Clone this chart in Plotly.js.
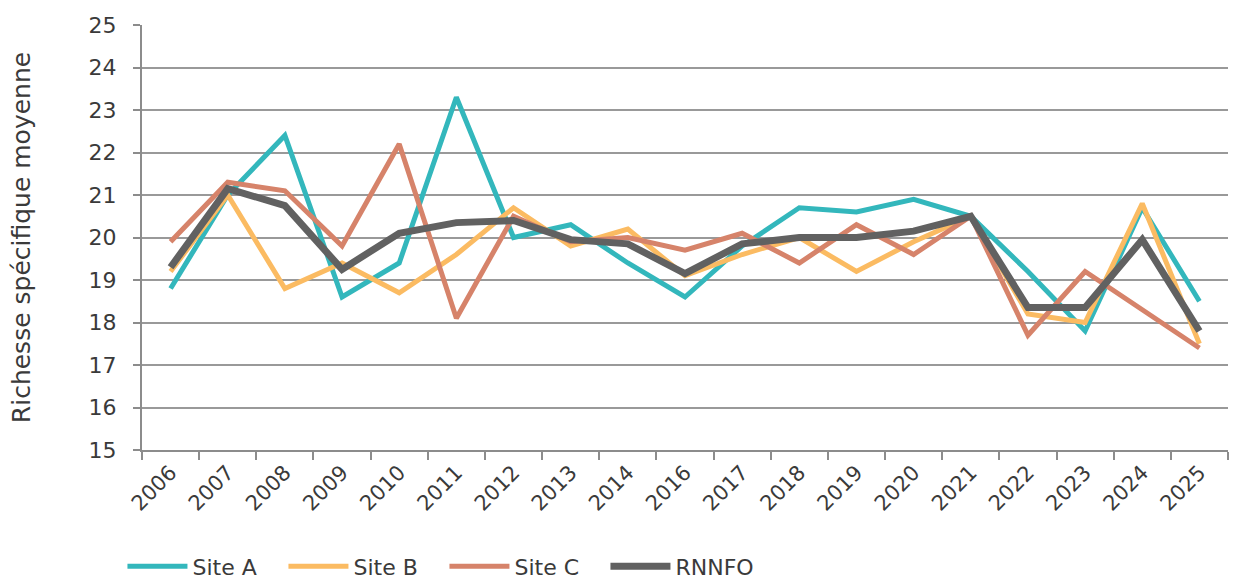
<!DOCTYPE html>
<html>
<head>
<meta charset="utf-8">
<script src="https://cdn.plot.ly/plotly-3.0.1.min.js"></script>
<style>html,body{margin:0;padding:0;background:#fff;}#chart{width:1248px;height:583px;}</style>
</head>
<body>
<div id="chart"></div>
<script>
const years = ["2006","2007","2008","2009","2010","2011","2012","2013","2014","2016","2017","2018","2019","2020","2021","2022","2023","2024","2025"];
const siteA = [18.8,21.0,22.4,18.6,19.4,23.3,20.0,20.3,19.4,18.6,19.8,20.7,20.6,20.9,20.5,19.2,17.8,20.7,18.5];
const siteB = [19.2,21.0,18.8,19.4,18.7,19.6,20.7,19.8,20.2,19.1,19.6,20.0,19.2,19.9,20.5,18.2,18.0,20.8,17.5];
const siteC = [19.9,21.3,21.1,19.8,22.2,18.1,20.5,19.9,20.0,19.7,20.1,19.4,20.3,19.6,20.5,17.7,19.2,18.3,17.4];
const rnnfo = [19.3,21.15,20.75,19.25,20.1,20.35,20.4,19.95,19.85,19.15,19.85,20.0,20.0,20.15,20.5,18.35,18.35,19.95,17.8];
const yTicks = [15,16,17,18,19,20,21,22,23,24,25];

const font = "DejaVu Sans";
const txt = "#3a3a3a";
function tr(name, y, color, w){
  return {x: years, y: y, name: name, type: "scatter", mode: "lines",
          line: {color: color, width: w}};
}
const data = [
  tr("Site A", siteA, "#33b7bc", 5),
  tr("Site B", siteB, "#fbbb62", 5),
  tr("Site C", siteC, "#d6836a", 5),
  tr("RNNFO", rnnfo, "#616161", 7)
];
const layout = {
  width: 1248, height: 583,
  margin: {l: 142, r: 20, t: 25, b: 133, autoexpand: false},
  paper_bgcolor: "#fff", plot_bgcolor: "#fff",
  font: {family: font, size: 21, color: txt},
  showlegend: true,
  legend: {orientation: "h", x: -0.018, xanchor: "left", y: -0.274, yanchor: "middle",
           font: {family: font, size: 22, color: txt}, itemwidth: 60, tracegroupgap: 0,
           entrywidth: 86, entrywidthmode: "pixels"},
  xaxis: {type: "category", range: [-0.5, 18.5], automargin: false, tickangle: -45,
          tickson: "boundaries", ticks: "outside",
          ticklen: 8, tickcolor: "#8c8c8c", tickwidth: 2, showline: true, linecolor: "#8c8c8c",
          linewidth: 2, showgrid: false, zeroline: false,
          tickfont: {family: font, size: 21, color: txt}},
  yaxis: {range: [15, 25], automargin: false, tickvals: yTicks, ticktext: yTicks.map(String), ticks: "outside",
          ticklen: 7, tickcolor: "#8c8c8c", tickwidth: 2, showline: true, linecolor: "#8c8c8c",
          linewidth: 2, showgrid: true, gridcolor: "#999", gridwidth: 2, zeroline: false,
          ticklabelstandoff: 12,
          tickfont: {family: font, size: 22, color: txt},
          title: {text: "Richesse spécifique moyenne", font: {family: font, size: 25, color: txt}, standoff: 51}}
};
Plotly.newPlot("chart", data, layout, {displayModeBar: false, staticPlot: true});
</script>
</body>
</html>
